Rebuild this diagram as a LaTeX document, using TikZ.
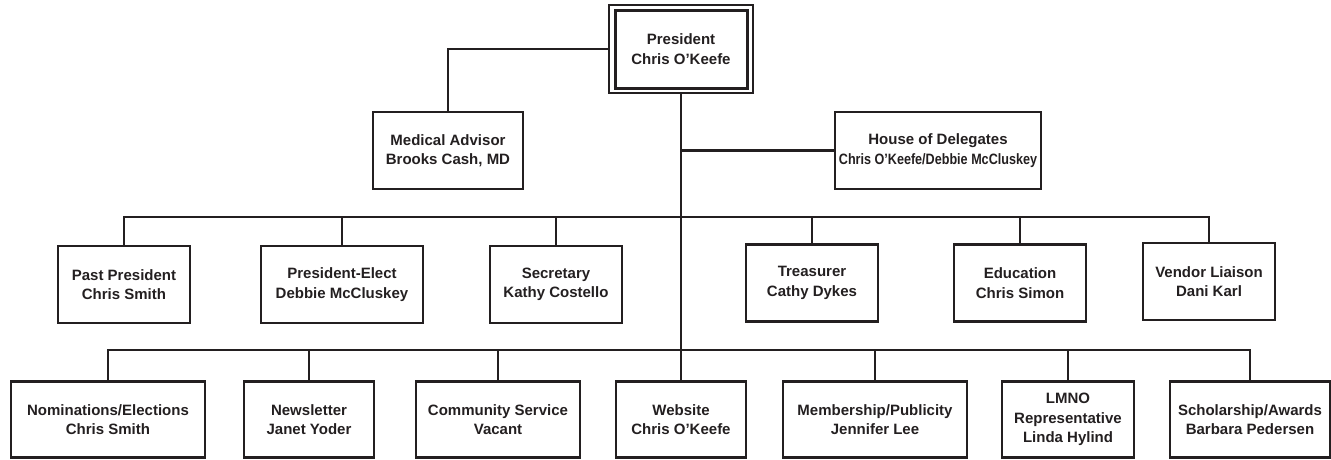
\documentclass[tikz,border=0pt]{standalone}
\usepackage{fontspec}
\usepackage{graphicx}
\setmainfont{Liberation Sans}
\usetikzlibrary{fit}
\definecolor{ink}{HTML}{231F20}
\newcommand{\squeeze}[1]{\scalebox{0.84}[1]{#1}}
\tikzset{
  centered/.style = { align=center, anchor=center },
      post/.style = { draw=ink, line width=2.2pt, centered, inner sep=0pt,
                      text=ink, font=\bfseries\fontsize{15}{19.5}\selectfont,
                      minimum height=77pt },
      wire/.style = { draw=ink, line width=2.2pt }
}

\begin{document}
\begin{tikzpicture}[x=1pt, y=-1pt]
  \useasboundingbox (0,0) rectangle (1331,459);

  \node[post, line width=3pt, minimum width=132pt, minimum height=78pt]
    (pres) at (681,49) {President\\Chris O'Keefe};
  \node[fit=(pres), draw=ink, line width=1.6pt, inner xsep=4.5pt, inner ysep=3.3pt]
    (presframe) {};

  \node[post, minimum width=150pt] (med) at (448,150.5) {Medical Advisor\\Brooks Cash, MD};
  \node[post, minimum width=206pt] (hod) at (938,150.5) {House of Delegates\\\squeeze{Chris O'Keefe/Debbie McCluskey}};

  \node[post, minimum width=132pt] (past)   at (124,284.5)  {Past President\\Chris Smith};
  \node[post, minimum width=162pt] (elect)  at (342,284.5)  {President-Elect\\Debbie McCluskey};
  \node[post, minimum width=132pt] (sec)    at (556,284.5)  {Secretary\\Kathy Costello};
  \node[post, minimum width=132pt] (treas)  at (812,283)    {Treasurer\\Cathy Dykes};
  \node[post, minimum width=132pt] (edu)    at (1020,283)   {Education\\Chris Simon};
  \node[post, minimum width=132pt] (vendor) at (1209,281.5) {Vendor Liaison\\Dani Karl};

  \node[post, minimum width=194pt, minimum height=76pt] (nom)   at (108,419.5)  {Nominations/Elections\\Chris Smith};
  \node[post, minimum width=130pt, minimum height=76pt] (news)  at (309,419.5)  {Newsletter\\Janet Yoder};
  \node[post, minimum width=164pt, minimum height=76pt] (comm)  at (498,419.5)  {Community Service\\Vacant};
  \node[post, minimum width=130pt, minimum height=76pt] (web)   at (681,419.5)  {Website\\Chris O'Keefe};
  \node[post, minimum width=184pt, minimum height=76pt] (memb)  at (875,419.5)  {Membership/Publicity\\Jennifer Lee};
  \node[post, minimum width=132pt, minimum height=76pt] (lmno)  at (1068,419.5) {LMNO\\Representative\\Linda Hylind};
  \node[post, minimum width=160pt, minimum height=76pt] (schol) at (1250,419.5) {Scholarship/Awards\\Barbara Pedersen};

  \coordinate (bus2) at (681,217);
  \coordinate (bus3) at (681,350);

  \draw[wire] (presframe.west) -| (med.north);
  \draw[wire] (presframe.south) -- (web.north);
  \draw[wire] (hod.west) -- (hod.west -| presframe.south);

  \draw[wire] (past.north) |- (bus2) -| (vendor.north);
  \foreach \n in {elect,sec,treas,edu}
    \draw[wire] (\n.north) -- (\n.north |- bus2);

  \draw[wire] (nom.north) |- (bus3) -| (schol.north);
  \foreach \n in {news,comm,memb,lmno}
    \draw[wire] (\n.north) -- (\n.north |- bus3);
\end{tikzpicture}
\end{document}
